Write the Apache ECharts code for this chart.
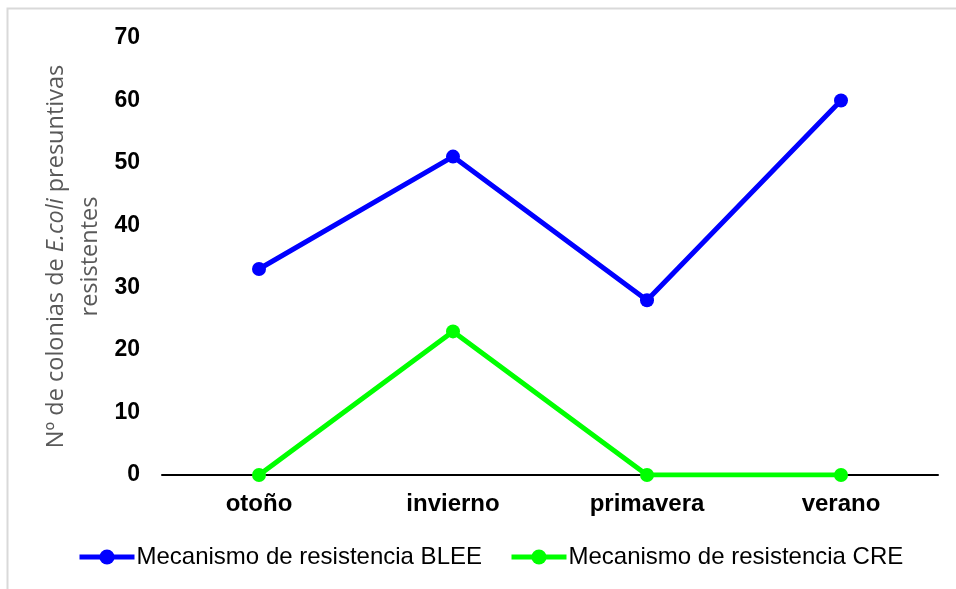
<!DOCTYPE html>
<html>
<head>
<meta charset="utf-8">
<script src="https://cdn.jsdelivr.net/npm/echarts@6/dist/echarts.min.js"></script>
<style>
  html, body { margin: 0; padding: 0; background: #fff; }
  #chart { width: 956px; height: 589px; }
</style>
</head>
<body>
<div id="chart"></div>
<script>
// estaciones y colonias resistentes
var seasons = ['otoño', 'invierno', 'primavera', 'verano'];
var blee = [33, 51, 28, 60];
var cre = [0, 23, 0, 0];
var yTicks = { min: 0, max: 70, interval: 10 };

var font = '"Liberation Sans", Arial, sans-serif';
var nameFont = '"Open Sans", "Noto Sans", sans-serif';

var lineSeries = function (name, color, data) {
  return {
    name: name,
    type: 'line',
    data: data,
    symbol: 'circle',
    symbolSize: 14,
    lineStyle: { width: 5, color: color },
    itemStyle: { color: color },
    z: 3
  };
};

var option = {
  backgroundColor: '#fff',
  animation: false,
  graphic: [{
    type: 'rect',
    shape: { x: 7.5, y: 8.5, width: 1200, height: 1200 },
    style: { fill: 'none', stroke: '#d9d9d9', lineWidth: 2 },
    silent: true
  }],
  grid: { left: 162, right: 18, top: 38, bottom: 114 },
  legend: {
    top: 540,
    left: 72,
    itemWidth: 55,
    itemHeight: 19,
    itemGap: 27,
    lineStyle: { width: 5 },
    textStyle: { fontFamily: font, fontSize: 24, color: '#000', padding: [0, 0, 0, -3] },
    data: ['Mecanismo de resistencia BLEE', 'Mecanismo de resistencia CRE']
  },
  xAxis: {
    type: 'category',
    data: seasons,
    boundaryGap: true,
    axisLine: { lineStyle: { color: '#000', width: 2 } },
    axisTick: { show: false },
    axisLabel: { fontFamily: font, fontSize: 24, fontWeight: 'bold', color: '#000', margin: 17 }
  },
  yAxis: {
    type: 'value',
    min: yTicks.min,
    max: yTicks.max,
    interval: yTicks.interval,
    axisLine: { show: false },
    axisTick: { show: false },
    splitLine: { show: false },
    axisLabel: { fontFamily: font, fontSize: 23, fontWeight: 'bold', color: '#000', margin: 22 },
    name: '{n|Nº de colonias de }{i|E.coli}{n| presuntivas}\n{n|resistentes}',
    nameLocation: 'middle',
    nameGap: 55,
    nameMoveOverlap: false,
    nameRotate: 90,
    nameTextStyle: {
      align: 'center',
      lineHeight: 34,
      rich: {
        n: { fontFamily: nameFont, fontSize: 23.5, color: '#595959', lineHeight: 34 },
        i: { fontFamily: nameFont, fontSize: 23.5, color: '#595959', fontStyle: 'italic', lineHeight: 34 }
      }
    }
  },
  series: [
    lineSeries('Mecanismo de resistencia BLEE', '#0000ff', blee),
    lineSeries('Mecanismo de resistencia CRE', '#00ff00', cre)
  ]
};

var myChart = echarts.init(document.getElementById('chart'));
myChart.setOption(option);
</script>
</body>
</html>
